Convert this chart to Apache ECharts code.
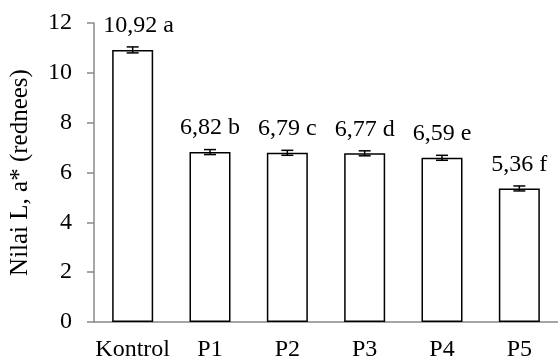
<!DOCTYPE html>
<html><head><meta charset="utf-8">
<script src="https://cdn.jsdelivr.net/npm/echarts@6/dist/echarts.min.js"></script>
<style>html,body{margin:0;padding:0;background:#fff}#c{width:558px;height:363px}</style>
</head><body><div id="c"></div>
<script>
var categories = ['Kontrol', 'P1', 'P2', 'P3', 'P4', 'P5'];
var values = [10.92, 6.82, 6.79, 6.77, 6.59, 5.36];
var letters = ['a', 'b', 'c', 'd', 'e', 'f'];
var errors = [0.12, 0.1, 0.1, 0.1, 0.1, 0.1];
var yTicks = [0, 2, 4, 6, 8, 10, 12];

var font = '"Liberation Serif", "Times New Roman", serif';
var chart = echarts.init(document.getElementById('c'), null, {renderer: 'canvas'});

var barData = values.map(function (v, i) {
  var item = {value: v};
  if (i === 0) item.label = {offset: [6, 0]};
  return item;
});
var errData = values.map(function (v, i) { return [i, v - errors[i], v + errors[i]]; });

chart.setOption({
  animation: false,
  backgroundColor: '#fff',
  grid: {left: 93, right: 0, top: 23, bottom: 41, containLabel: false},
  xAxis: {
    type: 'category', data: categories,
    axisLine: {lineStyle: {color: '#898989', width: 1.5}},
    axisTick: {show: false},
    axisLabel: {color: '#000', fontFamily: font, fontSize: 24, margin: 16, interval: 0}
  },
  yAxis: {
    type: 'value', min: yTicks[0], max: yTicks[yTicks.length - 1], interval: 2,
    name: 'Nilai L, a* (rednees)', nameLocation: 'middle', nameGap: 61,
    nameTextStyle: {color: '#000', fontFamily: font, fontSize: 25},
    axisLine: {show: true, lineStyle: {color: '#898989', width: 1.5}},
    axisTick: {show: true, length: 7, lineStyle: {color: '#898989', width: 1.5}},
    axisLabel: {color: '#000', fontFamily: font, fontSize: 24, margin: 22},
    splitLine: {show: false}
  },
  series: [{
    type: 'bar', data: barData, barWidth: 41,
    itemStyle: {color: '#fff', borderColor: '#000', borderWidth: 1.5},
    label: {
      show: true, position: 'top', distance: 12, color: '#000',
      fontFamily: font, fontSize: 24,
      formatter: function (p) {
        return String(values[p.dataIndex].toFixed(2)).replace('.', ',') + ' ' + letters[p.dataIndex];
      }
    },
    z: 2
  }, {
    type: 'custom', data: errData, z: 3,
    renderItem: function (params, api) {
      var x = api.value(0);
      var lo = api.coord([x, api.value(1)]);
      var hi = api.coord([x, api.value(2)]);
      var hw = 6;
      var st = {stroke: '#000', lineWidth: 1.5};
      return {type: 'group', children: [
        {type: 'line', shape: {x1: lo[0], y1: lo[1], x2: hi[0], y2: hi[1]}, style: st},
        {type: 'line', shape: {x1: lo[0] - hw, y1: lo[1], x2: lo[0] + hw, y2: lo[1]}, style: st},
        {type: 'line', shape: {x1: hi[0] - hw, y1: hi[1], x2: hi[0] + hw, y2: hi[1]}, style: st}
      ]};
    }
  }]
});
</script></body></html>
